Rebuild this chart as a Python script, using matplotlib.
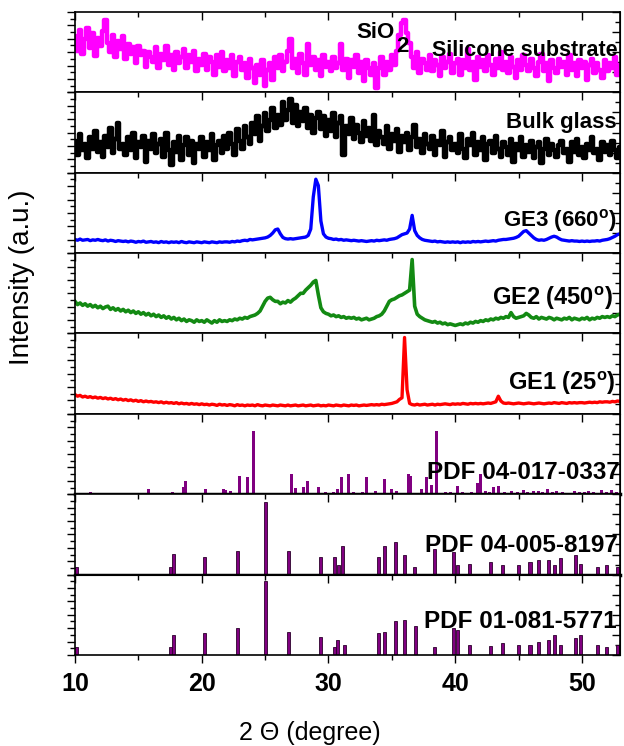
import matplotlib
matplotlib.use("Agg")
import matplotlib.pyplot as plt
import numpy as np
from matplotlib.ticker import MultipleLocator, AutoMinorLocator

plt.rcParams["font.family"] = ["Liberation Sans", "DejaVu Sans"]
plt.rcParams["mathtext.default"] = "regular"

# 2-theta grid of the measured patterns (0.2 deg step)
two_theta = np.linspace(10, 53, 216)

silicone_substrate = [
    70, 52, 78, 48, 66, 80, 55, 74, 45, 68,
    58, 76, 90, 62, 50, 72, 44, 64, 54, 70,
    42, 60, 48, 56, 36, 58, 46, 52, 32, 50,
    44, 38, 56, 30, 48, 40, 58, 34, 46, 28,
    50, 36, 44, 54, 30, 46, 38, 52, 26, 42,
    34, 48, 28, 44, 38, 22, 46, 32, 50, 26,
    40, 30, 46, 20, 38, 44, 28, 36, 18, 42,
    30, 12, 34, 22, 40, 8, 28, 36, 16, 44,
    30, 46, 26, 38, 52, 66, 30, 42, 24, 48,
    36, 22, 60, 34, 44, 28, 40, 20, 46, 32,
    38, 26, 44, 30, 36, 60, 28, 42, 18, 40,
    32, 46, 24, 38, 14, 40, 30, 22, 36, 6,
    30, 44, 22, 38, 28, 46, 34, 52, 72, 86,
    90, 74, 62, 44, 30, 50, 24, 42, 36, 28,
    46, 26, 40, 34, 20, 44, 30, 38, 48, 24,
    36, 42, 22, 40, 30, 54, 28, 38, 16, 44,
    32, 40, 26, 46, 34, 22, 42, 30, 50, 28,
    38, 24, 44, 32, 18, 40, 28, 46, 34, 26,
    42, 30, 20, 38, 48, 26, 36, 14, 40, 30,
    24, 42, 32, 38, 22, 46, 28, 36, 20, 40,
    30, 38, 16, 34, 42, 24, 36, 28, 18, 40,
    26, 36, 30, 44, 22, 34,
]

bulk_glass = [
    40, 22, 48, 28, 36, 18, 44, 30, 52, 26,
    38, 20, 46, 32, 56, 24, 42, 62, 30, 36,
    22, 44, 28, 50, 18, 38, 32, 46, 14, 40,
    30, 48, 24, 36, 42, 20, 50, 28, 10, 38,
    26, 46, 16, 34, 44, 22, 40, 12, 36, 30,
    44, 20, 38, 28, 48, 16, 34, 40, 24, 46,
    30, 50, 36, 22, 54, 40, 30, 58, 44, 36,
    62, 48, 70, 40, 58, 74, 52, 66, 80, 56,
    72, 60, 88, 66, 78, 92, 62, 84, 58, 76,
    64, 80, 56, 72, 50, 68, 76, 54, 70, 46,
    66, 52, 74, 44, 62, 70, 22, 58, 48, 68,
    42, 60, 50, 38, 64, 46, 56, 40, 72, 34,
    52, 44, 36, 58, 30, 48, 40, 54, 26, 46,
    38, 50, 28, 44, 60, 32, 42, 24, 48, 36,
    30, 46, 22, 40, 34, 52, 20, 38, 44, 28,
    36, 24, 48, 30, 18, 42, 34, 50, 22, 38,
    28, 44, 16, 36, 40, 24, 46, 30, 20, 38,
    32, 22, 42, 14, 36, 28, 44, 20, 34, 26,
    40, 18, 32, 38, 12, 30, 42, 22, 36, 28,
    20, 34, 40, 24, 30, 14, 38, 26, 42, 22,
    32, 18, 36, 28, 44, 24, 30, 16, 38, 26,
    34, 22, 40, 28, 18, 32,
]

ge3_660 = [
    17, 16, 17.5, 16, 16.5, 17, 15.5, 16.5, 16, 17,
    16, 15.5, 16.5, 15, 16, 15.5, 14.5, 15.5, 15, 14.5,
    15, 14, 15, 14.5, 13.5, 14.5, 14, 15, 13.5, 14,
    14.5, 13.5, 14, 13, 14.5, 13.5, 14, 13, 14, 13.5,
    14, 13, 14.5, 13.5, 13, 14, 13.5, 13, 14, 13.5,
    13, 14, 13.5, 13, 14, 13.5, 13, 14, 13.5, 14,
    14, 13.5, 14.5, 14, 15, 14.5, 15.5, 16, 15.5, 17,
    16.5, 17, 17.5, 18, 18.5, 19, 20, 22, 25, 29,
    30, 24, 19.5, 18, 17.5, 18, 17.5, 18, 18.5, 19,
    19.5, 20, 22, 30, 70, 92, 84, 40, 24, 20,
    18.5, 18, 17, 17.5, 16.5, 17, 16, 16.5, 16, 15.5,
    16, 15.5, 15, 15.5, 15, 14.5, 15, 15.5, 15, 16,
    15.5, 16, 16.5, 16, 17, 17.5, 18, 19, 21, 23,
    24, 25, 30, 47, 28, 22, 19, 17, 16, 15.5,
    15, 14.5, 15, 14, 14.5, 14, 13.5, 14, 13.5, 14,
    13.5, 14, 13, 14, 13.5, 14, 13.5, 14.5, 14, 14.5,
    14, 14.5, 15, 14.5, 15, 15.5, 15, 16, 16.5, 17,
    17, 17.5, 18, 18.5, 19.5, 21, 24, 27, 28, 25,
    22, 19, 17, 16, 16.5, 16, 17, 18.5, 20, 21,
    20, 18, 16.5, 16, 15.5, 15, 15.5, 15, 15, 14.5,
    15, 14.5, 15, 14.5, 15, 15, 15.5, 15, 16, 16.5,
    17, 18, 19.5, 21, 23, 24,
]

ge2_450 = [
    40, 36, 38, 35, 37, 34, 36, 33, 35, 32,
    34, 31, 33, 34, 30, 32, 29, 31, 28, 30,
    27, 29, 26, 28, 25, 27, 24, 26, 23, 25,
    22, 24, 21, 23, 20, 22, 19, 21, 18, 20,
    17, 19, 16, 18, 15, 17, 16, 14, 17, 15,
    16, 14, 17, 15, 13, 16, 14, 17, 15, 16,
    15, 17, 16, 18, 17, 19, 18, 20, 19, 21,
    22, 23, 25, 28, 34, 40, 44, 45, 42, 40,
    40, 37, 39, 38, 41, 39, 42, 44, 47, 50,
    50, 54, 57, 60, 64, 66, 48, 32, 27, 25,
    24, 22, 23, 21, 22, 20, 21, 19, 20, 19,
    20, 18, 19, 17, 18, 19, 17, 18, 19, 21,
    22, 24, 28, 34, 40, 42, 43, 45, 47, 48,
    50, 52, 54, 92, 34, 24, 21, 19, 17, 16,
    15, 14, 15, 13, 14, 12, 13, 11, 12, 11,
    10, 11, 12, 11, 13, 12, 14, 13, 15, 14,
    16, 15, 17, 16, 18, 17, 19, 18, 20, 19,
    21, 20, 26, 21, 19, 20, 21, 22, 25, 23,
    20, 19, 21, 18, 20, 19, 18, 20, 19, 17,
    19, 18, 17, 19, 18, 20, 17, 19, 18, 17,
    19, 18, 20, 17, 19, 18, 20, 19, 21, 20,
    21, 20, 22, 21, 23, 24,
]

ge1_25 = [
    24, 22, 23, 21, 22, 20.5, 21.5, 20, 21, 19.5,
    20.5, 19, 20, 18.5, 19.5, 18, 19, 17.5, 18.5, 17,
    18, 16.5, 17.5, 16, 17, 15.5, 16.5, 15, 16, 15,
    15.5, 14.5, 15, 14, 15, 13.5, 14.5, 13.5, 14, 13,
    14, 12.5, 13.5, 12.5, 13, 12, 13, 12, 12.5, 11.5,
    12.5, 11.5, 12, 11, 12, 11.5, 10.5, 12, 11, 11.5,
    10.5, 11.5, 11, 10, 11.5, 10.5, 11, 10, 11, 10.5,
    11, 10, 11.5, 10.5, 10, 11, 10.5, 10, 11, 10.5,
    10, 11, 10.5, 10, 11, 10, 10.5, 11, 10, 10.5,
    11, 10, 10.5, 11, 10, 10.5, 11, 10, 10.5, 10,
    11, 10.5, 10, 11, 10.5, 10, 11, 10.5, 10, 11,
    10.5, 11, 10, 10.5, 11, 10.5, 11, 11.5, 11, 11.5,
    11, 12, 11.5, 12, 12.5, 13, 14, 15, 18, 20,
    95, 30, 13, 11.5, 11, 12, 11, 11.5, 12, 11,
    11.5, 12, 11, 12, 11.5, 12, 12.5, 12, 11.5, 12.5,
    12, 12.5, 12, 13, 12.5, 12, 13, 12.5, 13, 12.5,
    13, 12.5, 13, 13.5, 13, 14, 15, 22, 16, 13.5,
    13, 13.5, 13, 12.5, 13, 13.5, 13, 12.5, 13, 13.5,
    13, 12.5, 13, 13.5, 13, 12.5, 13, 13.5, 13, 14,
    13.5, 13, 14, 13.5, 13, 14, 13.5, 14, 13.5, 14,
    14, 13.5, 14, 14.5, 14, 14.5, 14, 15, 14.5, 15,
    15, 14.5, 15.5, 15, 16, 15.5,
]

# reference patterns (stick positions in 2-theta, relative intensity)
pdf_0337_pos = [11.2, 15.8, 17.7, 18.6, 18.75, 20.3, 21.7, 21.9, 22.3, 23.0,
                23.6, 24.07, 24.7, 25.8, 27.1, 27.4, 28.0, 28.35, 29.2, 29.8,
                30.4, 30.7, 31.05, 31.6, 32.0, 32.7, 33.0, 33.7, 34.4, 35.0,
                35.4, 36.3, 36.5, 37.35, 37.7, 38.1, 38.5, 39.2, 39.6, 40.2,
                40.6, 40.9, 41.3, 41.75, 42.0, 42.4, 42.7, 43.0, 43.4, 43.9,
                44.45, 44.9, 45.4, 45.7, 46.2, 46.6, 46.9, 47.3, 47.7, 48.0,
                48.5, 48.9, 49.4, 49.8, 50.2, 50.55, 50.9, 51.2, 51.55, 51.9,
                52.3, 52.7]
pdf_0337_int = [3, 7, 3, 9, 17, 7, 7, 5, 4, 23,
                21, 79, 2, 2, 25, 8, 9, 17, 9, 3,
                3, 7, 21, 25, 3, 3, 21, 4, 19, 6,
                4, 25, 23, 7, 21, 12, 79, 3, 3, 10,
                3, 2, 3, 14, 25, 4, 3, 9, 10, 3,
                4, 3, 5, 3, 4, 4, 3, 6, 3, 4,
                3, 2, 4, 3, 3, 4, 3, 2, 5, 3,
                5, 3]

pdf_8197_pos = [10.1, 17.5, 17.8, 20.2, 22.8, 25.0, 26.85, 29.4, 30.5, 30.8,
                31.1, 33.95, 34.4, 35.3, 36.0, 36.8, 38.4, 39.85, 40.2, 41.1,
                42.8, 43.7, 45.0, 45.9, 46.6, 47.35, 47.8, 48.3, 49.5, 49.9,
                51.2, 51.9, 52.8]
pdf_8197_int = [9.5, 9.5, 26, 22, 30, 90, 30, 22, 22, 11.5,
                36, 22, 36, 40, 24, 9.5, 32, 28, 11.5, 13.5,
                15.6, 11.5, 11.5, 15.6, 17.7, 17.7, 11.5, 20.6, 24, 13.5,
                9.5, 11.5, 9.5]

pdf_5771_pos = [10.1, 17.5, 17.8, 20.2, 22.8, 25.0, 26.85, 29.4, 30.5, 30.7,
                31.25, 33.95, 34.4, 35.3, 36.0, 36.85, 38.4, 39.85, 40.2, 41.1,
                42.8, 43.7, 45.0, 45.9, 46.6, 47.35, 47.8, 48.3, 49.5, 49.9,
                51.25, 51.9, 52.8]
pdf_5771_int = [10, 10, 25, 27, 33, 92, 29, 23, 10, 19,
                12, 27, 28, 42, 44, 36, 10, 33, 31, 12,
                11.5, 14.5, 12, 12, 16.5, 18.5, 25, 12, 20.6, 25,
                12, 10, 12]

x_ticks = [10, 20, 30, 40, 50]
x_tick_labels = ["10", "20", "30", "40", "50"]

# values, colour, line width, draw style
traces = [
    (silicone_substrate, "#ff00ff", 3.2, "steps-mid"),
    (bulk_glass, "black", 3.2, "steps-mid"),
    (ge3_660, "#0000ff", 2.4, "default"),
    (ge2_450, "#138a13", 2.6, "default"),
    (ge1_25, "#ff0000", 2.4, "default"),
]
sticks = [
    (pdf_0337_pos, pdf_0337_int, "none"),
    (pdf_8197_pos, pdf_8197_int, "#2b002b"),
    (pdf_5771_pos, pdf_5771_int, "#2b002b"),
]

# text, x (axes frac), baseline y (axes frac), size
labels = [
    ("Silicone substrate", 0.655, 0.45, 15.5),
    ("Bulk glass", 0.791, 0.56, 16),
    ("GE3 (660$^o$)", 0.786, 0.33, 16),
    ("GE2 (450$^o$)", 0.765, 0.35, 17),
    ("GE1 (25$^o$)", 0.794, 0.30, 17),
    ("PDF 04-017-0337", 0.646, 0.19, 17.5),
    ("PDF 04-005-8197", 0.643, 0.28, 17.5),
    ("PDF 01-081-5771", 0.641, 0.34, 17.5),
]

fig = plt.figure(figsize=(6.24, 7.46), dpi=100)
axes = fig.subplots(8, 1, sharex=True, gridspec_kw={"hspace": 0})
fig.subplots_adjust(left=0.1202, right=0.9936, top=0.9839, bottom=0.122)

for i, ax in enumerate(axes):
    if i < len(traces):
        vals, col, lw, style = traces[i]
        ax.plot(two_theta, vals, color=col, lw=lw, drawstyle=style)
    else:
        pos, inten, edge = sticks[i - len(traces)]
        ax.bar(pos, inten, width=0.24, color="#800080", edgecolor=edge, linewidth=0.6)
        if i < 7:
            ax.axhline(0, color="black", lw=2.5, clip_on=False, zorder=3)

    ax.set_xlim(10, 53)
    ax.set_ylim(0, 100)
    for sp in ax.spines.values():
        sp.set_linewidth(1.2)

    ax.xaxis.set_major_locator(MultipleLocator(10))
    ax.xaxis.set_minor_locator(MultipleLocator(5))
    ax.yaxis.set_major_locator(MultipleLocator(100 / 6))
    ax.yaxis.set_minor_locator(AutoMinorLocator(2))
    ax.tick_params(axis="x", which="both", direction="in", top=True, bottom=False,
                   labelbottom=False)
    ax.tick_params(axis="y", which="both", direction="out", left=True, right=False,
                   labelleft=False)
    ax.tick_params(which="major", length=6, width=1)
    ax.tick_params(which="minor", length=3.5, width=1)

    sec_y = ax.secondary_yaxis("right")
    sec_y.yaxis.set_major_locator(MultipleLocator(25))
    sec_y.yaxis.set_minor_locator(AutoMinorLocator(2))
    sec_y.tick_params(which="both", direction="in", labelright=False)
    sec_y.tick_params(which="major", length=6, width=1)
    sec_y.tick_params(which="minor", length=3.5, width=1)

    text, tx, ty, size = labels[i]
    ax.text(tx, ty, text, transform=ax.transAxes, ha="left", va="baseline",
            fontsize=size, fontweight="bold")

# SiO2 peak marker in the substrate pattern
axes[0].text(0.517, 0.68, "SiO", transform=axes[0].transAxes, ha="left",
             va="baseline", fontsize=16, fontweight="bold")
axes[0].text(0.590, 0.50, "2", transform=axes[0].transAxes, ha="left",
             va="baseline", fontsize=16, fontweight="bold")

bottom = axes[-1]
bottom.tick_params(axis="x", which="both", direction="out", top=False, bottom=True,
                   labelbottom=True, pad=6)
bottom.set_xticks(x_ticks)
bottom.set_xticklabels(x_tick_labels, fontsize=18, fontweight="bold")
sec_x = bottom.secondary_xaxis("top")
sec_x.xaxis.set_major_locator(MultipleLocator(10))
sec_x.xaxis.set_minor_locator(MultipleLocator(5))
sec_x.tick_params(which="both", direction="in", labeltop=False)
sec_x.tick_params(which="major", length=6, width=1)
sec_x.tick_params(which="minor", length=3.5, width=1)

fig.text(0.035, 0.629, "Intensity (a.u.)", rotation=90, ha="center", va="center",
         fontsize=20)
fig.text(0.497, 0.017, "2 \u0398 (degree)", ha="center", va="center", fontsize=18)

fig.savefig("out.png", dpi=100)
